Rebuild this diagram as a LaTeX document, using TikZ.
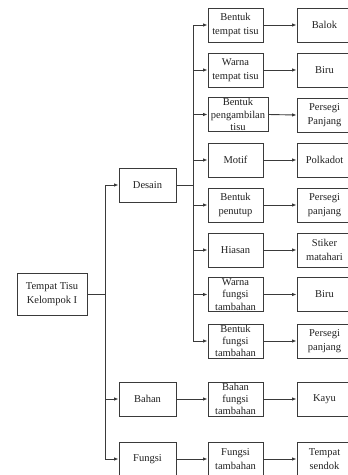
\documentclass[tikz,border=0pt]{standalone}
\usepackage{fontspec}
\setmainfont{Liberation Serif}
\usetikzlibrary{arrows.meta}
\definecolor{ln}{HTML}{3A3A3A}
\definecolor{tx}{HTML}{222222}
\tikzset{
  box/.style={draw=ln, line width=0.9pt, fill=white, text=tx, align=center, inner sep=1pt,
    minimum height=34pt, font=\fontsize{10.5}{13.5}\selectfont},
  tri/.style={box, font=\fontsize{10.5}{12.3}\selectfont},
  colb/.style={minimum width=57pt},
  colc/.style={minimum width=55pt},
  cold/.style={minimum width=55pt},
  conn/.style={draw=ln, line width=0.9pt},
  arr/.style={conn, -{Latex[length=4.5pt,width=3.5pt]}}
}
\begin{document}
\begin{tikzpicture}[x=1pt,y=-1pt]
\useasboundingbox (0,0) rectangle (348,475);
\clip (0,0) rectangle (348,475);
% column A
\node[box, minimum width=70pt, minimum height=42pt] (tt) at (52,294) {Tempat Tisu\\Kelompok I};
% column B
\node[box, colb] (desain) at (147.5,185) {Desain};
\node[box, colb] (bahan) at (147.5,399) {Bahan};
\node[box, colb] (fungsi) at (147.5,459) {Fungsi};
% column C
\node[box, colc] (c1) at (235.5,25) {Bentuk\\tempat tisu};
\node[box, colc] (c2) at (235.5,70) {Warna\\tempat tisu};
\node[tri, minimum width=60pt] (c3) at (238,114.5) {Bentuk\\pengambilan\\tisu};
\node[box, colc] (c4) at (235.5,160) {Motif};
\node[box, colc] (c5) at (235.5,205) {Bentuk\\penutup};
\node[box, colc] (c6) at (235.5,250) {Hiasan};
\node[tri, colc] (c7) at (235.5,294.5) {Warna\\fungsi\\tambahan};
\node[tri, colc] (c8) at (235.5,341) {Bentuk\\fungsi\\tambahan};
\node[tri, colc] (c9) at (235.5,399) {Bahan\\fungsi\\tambahan};
\node[box, colc] (c10) at (235.5,459) {Fungsi\\tambahan};
% column D
\node[box, cold] (d1) at (324.5,25) {Balok};
\node[box, cold] (d2) at (324.5,70) {Biru};
\node[box, cold] (d3) at (324.5,115) {Persegi\\Panjang};
\node[box, cold] (d4) at (324.5,160) {Polkadot};
\node[box, cold] (d5) at (324.5,205) {Persegi\\panjang};
\node[box, cold] (d6) at (324.5,250) {Stiker\\matahari};
\node[box, cold] (d7) at (324.5,294.5) {Biru};
\node[box, cold] (d8) at (324.5,341) {Persegi\\panjang};
\node[box, cold] (d9) at (324.5,399) {Kayu};
\node[box, cold] (d10) at (324.5,459) {Tempat\\sendok};
% trunks
\coordinate (ttr) at (105,294);
\coordinate (dtr) at (193,185);
\draw[conn] (tt.east) -- (ttr);
\draw[arr] (ttr) |- (desain.west);
\draw[arr] (ttr) |- (bahan.west);
\draw[arr] (ttr) |- (fungsi.west);
\draw[conn] (desain.east) -- (dtr);
\foreach \i in {1,...,8} {
  \draw[arr] (dtr) |- (c\i.west);
}
\foreach \i in {1,...,10} {
  \draw[arr] (c\i.east) -- (d\i.west);
}
\draw[arr] (bahan.east) -- (c9.west);
\draw[arr] (fungsi.east) -- (c10.west);
\end{tikzpicture}
\end{document}
